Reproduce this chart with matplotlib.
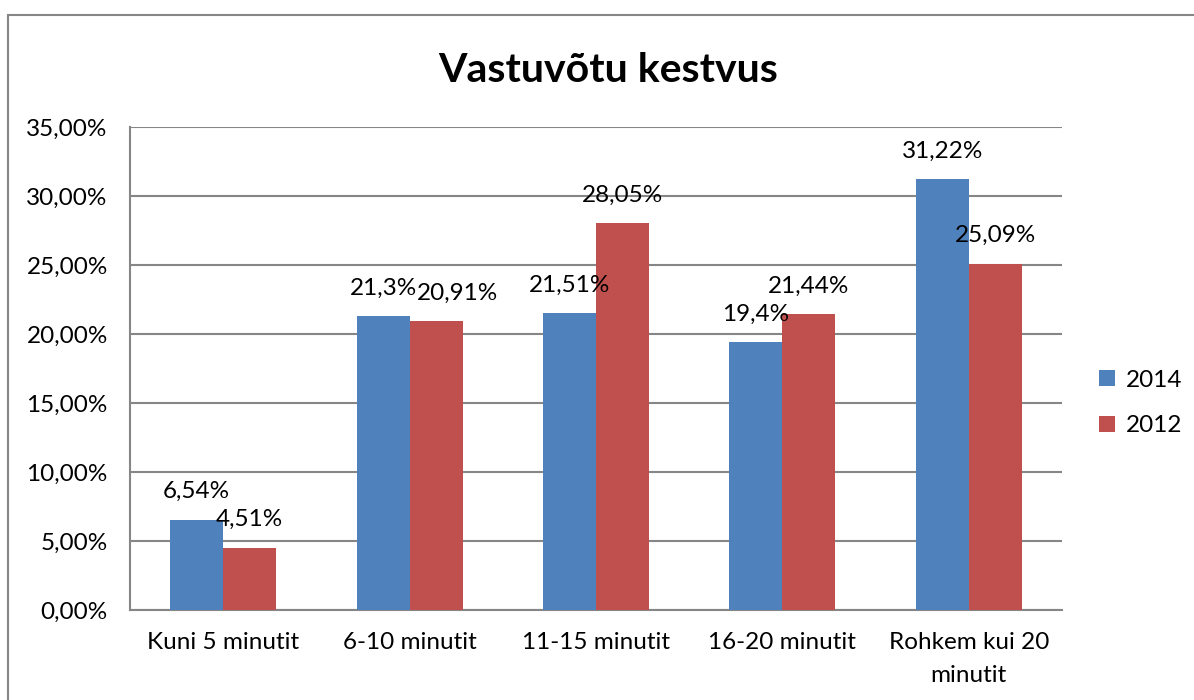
import matplotlib
matplotlib.use("Agg")
import matplotlib.pyplot as plt
import numpy as np
from matplotlib.patches import Rectangle
from matplotlib.ticker import FuncFormatter

categories = ["Kuni 5 minutit", "6-10 minutit", "11-15 minutit", "16-20 minutit", "Rohkem kui 20\nminutit"]
series_names = ["2014", "2012"]
values_2014 = [6.54, 21.3, 21.51, 19.4, 31.22]
values_2012 = [4.51, 20.91, 28.05, 21.44, 25.09]
labels_2014 = ["6,54%", "21,3%", "21,51%", "19,4%", "31,22%"]
labels_2012 = ["4,51%", "20,91%", "28,05%", "21,44%", "25,09%"]
title = "Vastuvõtu kestvus"

colors = ["#4F81BD", "#C0504D"]
FONT = ["Lato", "DejaVu Sans"]
plt.rcParams['font.family'] = FONT
FS = 17.5

W, H = 1194, 700
fig = plt.figure(figsize=(W / 100, H / 100), dpi=100)
fig.patch.set_facecolor("white")

# outer chart frame
fig.add_artist(Rectangle((8 / W, -0.1), 1.2, (H - 15) / H + 0.1, transform=fig.transFigure,
                         fill=False, edgecolor="#868686", linewidth=1.5))

ax = fig.add_axes([130 / W, (H - 610) / H, 932 / W, 483 / H])
x = np.arange(len(categories))
bw = 0.284
b1 = ax.bar(x - bw / 2, values_2014, bw, color=colors[0], label=series_names[0], zorder=3)
b2 = ax.bar(x + bw / 2, values_2012, bw, color=colors[1], label=series_names[1], zorder=3)

ax.set_xlim(-0.5, len(categories) - 0.5)
ax.set_ylim(0, 35)
ax.set_yticks(np.arange(0, 35.1, 5))
ax.yaxis.set_major_formatter(FuncFormatter(lambda v, p: f"{v:.2f}".replace(".", ",") + "%"))
ax.set_xticks(x)
ax.set_xticklabels(categories, fontsize=FS, linespacing=1.72)
ax.tick_params(axis="y", labelsize=FS, length=0, pad=16)
ax.tick_params(axis="x", length=0, pad=16)
ax.grid(axis="y", color="#868686", linewidth=1.5, zorder=0)
for s in ["top", "right"]:
    ax.spines[s].set_visible(False)
for s in ["left", "bottom"]:
    ax.spines[s].set_color("#868686")
    ax.spines[s].set_linewidth(1.5)

label_shift_2012 = {1: 21}
for i, (v, lab) in enumerate(zip(values_2014, labels_2014)):
    ax.annotate(lab, (x[i] - bw / 2, v), xytext=(0, 28), textcoords="offset pixels",
                ha="center", va="center", fontsize=FS, zorder=5)
for i, (v, lab) in enumerate(zip(values_2012, labels_2012)):
    ax.annotate(lab, (x[i] + bw / 2, v), xytext=(label_shift_2012.get(i, 0), 28),
                textcoords="offset pixels", ha="center", va="center", fontsize=FS, zorder=5)

fig.text(608 / W, 1 - 70 / H, title, ha="center", va="center", fontsize=29.5, fontweight="bold")

leg = fig.legend(handles=[b1, b2], labels=series_names, loc="center left",
                 bbox_to_anchor=(1077 / W, 1 - 403 / H), frameon=False, fontsize=FS,
                 handlelength=0.65, handleheight=0.65, handletextpad=0.45, labelspacing=1.0)

fig.savefig("out.png", dpi=100, facecolor="white")
